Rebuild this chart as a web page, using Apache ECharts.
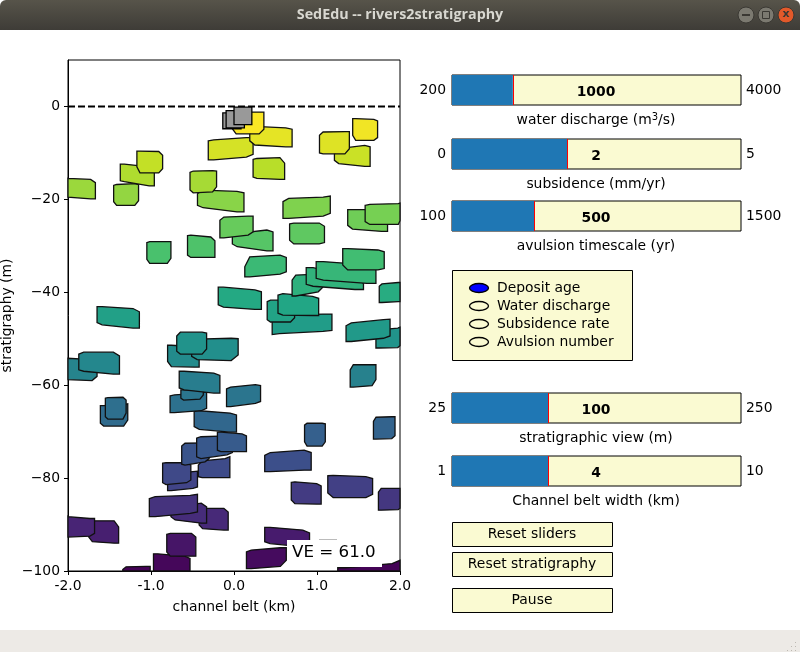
<!DOCTYPE html>
<html>
<head>
<meta charset="utf-8">
<title>SedEdu -- rivers2stratigraphy</title>
<script src="https://cdn.jsdelivr.net/npm/echarts@6/dist/echarts.min.js"></script>
<style>
html, body { margin: 0; padding: 0; background: #fff; }
#main { width: 800px; height: 652px; }
</style>
</head>
<body>
<div id="main"></div>
<script>
// channel belt deposits, oldest first: x left, x right, 4 top depths, 4 base depths (m)
var deposits = [
  [1.25, 2.02, -99.3, -99.3, -98.4, -97.7, -101, -101, -101, -101],
  [0.37, 0.91, -90.6, -90.6, -91.2, -91.8, -93.7, -94.1, -94.8, -95.5],
  [0.15, 0.63, -95.9, -95.5, -95, -95, -99.5, -99.5, -99, -97.7],
  [-1.34, -1.01, -99.7, -99.1, -99, -99, -101, -101, -101, -101],
  [-0.97, -0.53, -96.3, -96.3, -96.8, -97.3, -101, -101, -101, -101],
  [-0.81, -0.46, -92.1, -91.9, -91.9, -92.7, -95.9, -96.8, -96.8, -96.8],
  [-1.75, -1.39, -89.8, -89.2, -89.2, -90.5, -92.7, -93.7, -94, -94],
  [-2.05, -1.68, -88, -88.3, -88.7, -88.7, -92.5, -92.7, -92.5, -91.9],
  [-0.42, -0.07, -86.5, -86.5, -86.5, -87.3, -90.1, -90.9, -91.2, -91.2],
  [-0.76, -0.33, -87.6, -86.2, -85.4, -86.2, -88.3, -89, -89.7, -89.7],
  [-1.02, -0.44, -84.4, -84, -83.7, -83.5, -88.3, -88.3, -87.6, -87.3],
  [1.74, 2.02, -83, -82.2, -82.2, -82.2, -86.9, -86.9, -86.8, -86.5],
  [0.69, 1.05, -80.9, -80.8, -81.2, -81.7, -84.7, -85.5, -85.6, -85.6],
  [1.13, 1.67, -79.5, -79.4, -79.7, -80.1, -83.2, -84.2, -84.2, -83.5],
  [-0.8, -0.44, -79.4, -79, -78.6, -78.5, -82.7, -82.7, -82.2, -81.9],
  [-0.86, -0.52, -76.8, -76.7, -76.7, -77.2, -81, -81.4, -81, -80.4],
  [-0.43, -0.05, -77.2, -76.3, -75.8, -75.4, -79.7, -79.9, -79.9, -79.9],
  [0.37, 0.93, -75.1, -74.5, -74, -74.5, -78.6, -78.6, -78.3, -78.3],
  [-0.63, -0.3, -73.1, -72.5, -72.4, -74, -77, -77.2, -76.5, -75.8],
  [-0.45, -0.02, -71.4, -71.1, -70.9, -72.5, -75.4, -75.8, -75, -74.5],
  [0.85, 1.1, -68.6, -68.2, -68.2, -68.3, -72.2, -73.1, -73.1, -72.2],
  [1.68, 1.94, -67.8, -66.9, -66.8, -66.8, -71.6, -71.6, -71.5, -70.9],
  [-0.48, 0.03, -65.7, -65.5, -66, -66.4, -68.9, -69.5, -70.1, -70.1],
  [-0.2, 0.15, -70.1, -70.1, -70.5, -70.9, -74, -74.3, -74.3, -74.3],
  [-1.61, -1.28, -64.4, -64.4, -64.2, -64, -68.2, -68.8, -68.8, -67.5],
  [-1.55, -1.3, -62.8, -62.7, -62.6, -63.2, -66.8, -67.3, -67.3, -66],
  [-0.77, -0.33, -62.3, -62.1, -61.7, -61.4, -65.9, -65.9, -65.5, -65],
  [-0.64, -0.37, -61, -61, -61, -61, -62.8, -63.2, -63, -62.1],
  [-0.09, 0.32, -60.8, -60.4, -59.9, -60.1, -64.6, -64.6, -63.9, -63.5],
  [-0.66, -0.17, -57, -57, -57.4, -57.9, -60.6, -61, -61.7, -61.7],
  [1.4, 1.71, -56.7, -55.6, -55.6, -55.6, -60.4, -60.4, -60.1, -58.8],
  [-2.05, -1.65, -54.4, -54.2, -54.5, -56, -58.1, -58.8, -59, -58.1],
  [-1.87, -1.38, -53.3, -52.9, -52.9, -53.7, -56.7, -57, -57.6, -57.6],
  [-0.8, -0.42, -51.4, -51.4, -51.7, -53.5, -54.9, -56, -56.1, -56.1],
  [-0.51, 0.05, -50.2, -50.1, -49.9, -50, -53.8, -54.5, -54.7, -53.5],
  [-0.69, -0.33, -49.4, -48.6, -48.6, -48.8, -52.7, -53.3, -53.3, -52.2],
  [1.71, 2.02, -49.9, -48.1, -47.7, -47.5, -52, -52, -51.9, -51.5],
  [1.35, 1.88, -47.2, -46.6, -45.9, -45.8, -50.6, -50.6, -49.9, -49.4],
  [0.46, 1.18, -45.4, -44.9, -44.7, -44.7, -49.1, -48.9, -48.4, -48.2],
  [-1.65, -1.14, -43.1, -43.1, -43.5, -44.2, -46.5, -47, -47.7, -47.7],
  [0.4, 0.73, -42, -41.7, -41.7, -41.7, -45.9, -46.4, -46.4, -45.5],
  [0.53, 1.02, -40.6, -40.3, -40.9, -41.3, -44.5, -44.9, -45, -45],
  [-0.19, 0.33, -38.9, -38.9, -39.5, -39.9, -42.7, -43.2, -43.7, -43.7],
  [1.75, 2.02, -38.7, -38.2, -37.9, -37.9, -42.2, -42.2, -42, -42],
  [0.7, 1.07, -37.4, -36.3, -36.1, -36.7, -40.8, -40.8, -39.9, -38.9],
  [0.87, 1.56, -34.7, -34.7, -36.7, -38.1, -38.3, -38.7, -39.4, -39.4],
  [0.99, 1.71, -33.4, -33.4, -34.1, -35.2, -37, -37.4, -38.1, -38.1],
  [1.31, 1.81, -30.6, -30.6, -30.9, -31.3, -34.1, -35.2, -35.2, -34.9],
  [0.13, 0.63, -34.5, -32.4, -32, -32.5, -36.7, -36.7, -36.1, -35.6],
  [-0.56, -0.23, -27.8, -27.7, -28.1, -28.9, -32, -32.5, -32.5, -32.5],
  [-1.05, -0.76, -29.3, -29.1, -29.1, -29.1, -32.9, -33.8, -33.8, -32.7],
  [-0.02, 0.47, -28, -27.3, -26.6, -27, -29.6, -30.2, -31.1, -31.1],
  [0.67, 1.09, -25.3, -25.1, -25.1, -25.8, -28.8, -29.6, -29.6, -29.3],
  [-0.17, 0.23, -24.5, -23.8, -23.6, -23.6, -28.3, -28.3, -27.7, -27],
  [1.37, 1.85, -22.2, -22.2, -22.2, -23, -25.6, -26.4, -26.9, -26.9],
  [1.58, 2.05, -21.3, -21.1, -20.9, -20.8, -24.8, -25.4, -25.4, -24.6],
  [0.59, 1.16, -20.5, -19.8, -19.5, -19.3, -24.1, -24.1, -23.6, -23],
  [-0.44, 0.12, -18.8, -18, -18.3, -18.6, -21.3, -21.8, -22.7, -22.7],
  [-1.45, -1.15, -17, -16.8, -16.6, -16.8, -20.5, -21.3, -21.3, -20.3],
  [-2.05, -1.67, -15.3, -15.5, -15.7, -16.4, -18.8, -19.5, -19.9, -19.9],
  [-0.53, -0.21, -14.2, -13.9, -13.8, -13.9, -18, -18.6, -18.4, -17.3],
  [-1.37, -0.96, -12.4, -12.4, -13, -14.1, -16, -16.2, -17.1, -17.1],
  [-1.17, -0.86, -9.6, -9.6, -9.7, -10.5, -13, -14.3, -14.3, -13.4],
  [0.23, 0.61, -11.4, -11.2, -11, -12.2, -15.2, -15.5, -15.7, -15.7],
  [1.21, 1.64, -10.2, -9.1, -8.4, -8.7, -11.6, -12.3, -12.9, -12.9],
  [-0.31, 0.23, -7.4, -7.2, -6.7, -6.7, -11.5, -11.5, -10.9, -10.3],
  [1.03, 1.39, -6.2, -5.5, -5.4, -5.4, -10, -10.2, -10.2, -9.1],
  [0.19, 0.7, -5.9, -4.3, -4.6, -4.9, -7.4, -8.3, -8.7, -8.7],
  [1.43, 1.73, -2.6, -2.6, -2.8, -3.1, -6.2, -7.3, -7.3, -6.7],
  [-0.02, 0.36, -1.2, -1.2, -1.2, -1.2, -4.8, -5.9, -5.9, -4.9]
];
// the belts still active, drawn grey
var activeDeposits = [
  [-0.135, 0.085, -1.4, -1.4, -1.4, -1.4, -4.8, -4.8, -4.8, -4.8],
  [-0.095, 0.125, -0.9, -0.9, -0.9, -0.9, -4.6, -4.6, -4.6, -4.6],
  [0, 0.215, -0.15, -0.15, -0.15, -0.15, -3.9, -3.9, -3.9, -3.9]
];
var seaLevel = [[-2, 0], [2, 0]];

var xTicks = [-2, -1, 0, 1, 2];
var yTicks = [-100, -80, -60, -40, -20, 0];

var sliderNames = ['water discharge', 'subsidence (mm/yr)', 'avulsion timescale (yr)', 'stratigraphic view (m)', 'Channel belt width (km)'];
var sliderMins = [200, 0, 100, 25, 1];
var sliderMaxs = [4000, 5, 1500, 250, 10];
var sliderValues = [1000, 2, 500, 100, 4];
var sliderTops = [75, 139, 201, 393, 456];

var radioLabels = ['Deposit age', 'Water discharge', 'Subsidence rate', 'Avulsion number'];
var buttonLabels = ['Reset sliders', 'Reset stratigraphy', 'Pause'];
var buttonTops = [522, 552, 588];

var viridis = ['#440154', '#482475', '#414487', '#355f8d', '#2a788e', '#21918c', '#22a884', '#44bf70', '#7ad151', '#bddf26', '#fde725'];
var stations = [0, 0.12, 0.85, 1];
var FONT = '"DejaVu Sans"';
var FONT_SIZE = 13.9;

function meanDepth(row) {
  var sum = 0;
  for (var i = 2; i < row.length; i++) sum += Math.max(row[i], -100);
  return sum / (row.length - 2);
}

function renderDeposit(params, api) {
  var xL = api.value(1), xR = api.value(2);
  var top = [], base = [];
  stations.forEach(function (f, i) {
    var x = xL + (xR - xL) * f;
    top.push(api.coord([x, api.value(3 + i)]));
    base.unshift(api.coord([x, api.value(3 + stations.length + i)]));
  });
  var cs = params.coordSys;
  var points = echarts.graphic.clipPointsByRect(top.concat(base), { x: cs.x, y: cs.y, width: cs.width, height: cs.height });
  return {
    type: 'polygon',
    shape: { points: points },
    style: { fill: api.visual('color'), stroke: '#111', lineWidth: 1.3 }
  };
}

function depositEncode() {
  return { x: [1, 2], y: [3, 4, 5, 6, 7, 8, 9, 10] };
}

var myChart = echarts.init(document.getElementById('main'), null, { renderer: 'canvas' });

var grids = [{ left: 68, top: 60, width: 332, height: 511, show: true, borderColor: '#000', borderWidth: 1, backgroundColor: '#fff', outerBoundsMode: 'none' }];
var xAxes = [{
  type: 'value', gridIndex: 0, min: -2, max: 2, interval: 1,
  name: 'channel belt (km)', nameLocation: 'middle', nameGap: 29,
  nameTextStyle: { color: '#000', fontFamily: FONT, fontSize: FONT_SIZE },
  axisLine: { show: true, onZero: false, lineStyle: { color: '#000' } },
  axisTick: { show: true, length: 4, lineStyle: { color: '#000' } },
  axisLabel: { color: '#000', fontFamily: FONT, fontSize: FONT_SIZE, margin: 8, formatter: function (v) { return v.toFixed(1); }, customValues: xTicks },
  splitLine: { show: false }
}];
var yAxes = [{
  type: 'value', gridIndex: 0, min: -100, max: 10, interval: 20,
  name: 'stratigraphy (m)', nameLocation: 'middle', nameGap: 54,
  nameTextStyle: { color: '#000', fontFamily: FONT, fontSize: FONT_SIZE },
  axisLine: { show: true, onZero: false, lineStyle: { color: '#000' } },
  axisTick: { show: true, length: 4, lineStyle: { color: '#000' }, customValues: yTicks },
  axisLabel: { color: '#000', fontFamily: FONT, fontSize: FONT_SIZE, margin: 8, customValues: yTicks, formatter: function (v) { return v < 0 ? '\u2212' + (-v) : '' + v; } },
  splitLine: { show: false }
}];

var series = [
  {
    type: 'custom', name: 'deposits', xAxisIndex: 0, yAxisIndex: 0, z: 3,
    renderItem: renderDeposit, encode: depositEncode(),
    data: deposits.map(function (r) { return [meanDepth(r)].concat(r); })
  },
  {
    type: 'custom', name: 'active', xAxisIndex: 0, yAxisIndex: 0, z: 4,
    renderItem: function (params, api) {
      var shape = renderDeposit(params, api);
      shape.style.fill = '#999';
      shape.style.stroke = '#000';
      return shape;
    },
    encode: depositEncode(),
    data: activeDeposits.map(function (r) { return [0].concat(r); })
  },
  {
    type: 'line', name: 'sea level', xAxisIndex: 0, yAxisIndex: 0, z: 2, showSymbol: false, silent: true,
    lineStyle: { color: '#000', width: 2, type: [7, 3] }, data: seaLevel
  }
];

var texts = [];
function addText(text, x, y, align, extra) {
  var style = { text: text, x: x, y: y, align: align, verticalAlign: 'middle', fill: '#000', font: FONT_SIZE + 'px ' + FONT };
  for (var k in extra) style[k] = extra[k];
  texts.push({ type: 'text', z: 20, silent: true, style: style });
}

sliderNames.forEach(function (name, i) {
  var g = i + 1, top = sliderTops[i];
  grids.push({ left: 452, top: top, width: 289, height: 30, show: true, backgroundColor: '#fafad2', borderColor: '#000', borderWidth: 1, outerBoundsMode: 'none' });
  xAxes.push({ type: 'value', gridIndex: g, min: sliderMins[i], max: sliderMaxs[i], show: false });
  yAxes.push({ type: 'category', gridIndex: g, data: [name], show: false });
  series.push({
    type: 'bar', xAxisIndex: g, yAxisIndex: g, barWidth: '100%', silent: true,
    itemStyle: { color: '#1f77b4' }, data: [sliderValues[i]],
    markLine: { silent: true, symbol: 'none', animation: false, label: { show: false }, lineStyle: { color: '#f00', width: 1, type: 'solid' }, data: [{ xAxis: sliderValues[i] }] }
  });
  addText(String(sliderMins[i]), 446, top + 15, 'right');
  addText(String(sliderMaxs[i]), 746, top + 15, 'left');
  addText(String(sliderValues[i]), 596, top + 17, 'center', { font: 'bold ' + FONT_SIZE + 'px ' + FONT });
  if (i === 0) {
    addText('water discharge (m{sup|3}/s)', 596, top + 45, 'center', { rich: { sup: { font: '10px ' + FONT, verticalAlign: 'top', fill: '#000', padding: [0, 0, 6, 0] } } });
  } else {
    addText(name, 596, top + 45, 'center');
  }
});

var chrome = [
  { type: 'rect', z: 1, silent: true, shape: { x: 0, y: 0, width: 800, height: 30, r: [6, 6, 0, 0] },
    style: { fill: new echarts.graphic.LinearGradient(0, 0, 0, 1, [{ offset: 0, color: '#57544a' }, { offset: 1, color: '#3e3c37' }]) } },
  { type: 'text', z: 20, silent: true, style: { text: 'SedEdu -- rivers2stratigraphy', x: 400, y: 15, align: 'center', verticalAlign: 'middle', fill: '#d8d7d0', font: 'bold 14.3px "Open Sans"' } },
  { type: 'circle', z: 2, silent: true, shape: { cx: 746, cy: 15, r: 8 }, style: { fill: '#7b7970', stroke: '#3a3833' } },
  { type: 'circle', z: 2, silent: true, shape: { cx: 766, cy: 15, r: 8 }, style: { fill: '#7b7970', stroke: '#3a3833' } },
  { type: 'circle', z: 2, silent: true, shape: { cx: 786, cy: 15, r: 8 }, style: { fill: '#e2592a', stroke: '#3a3833' } },
  { type: 'rect', z: 3, silent: true, shape: { x: 742, y: 14, width: 8, height: 2 }, style: { fill: '#3a3833' } },
  { type: 'rect', z: 3, silent: true, shape: { x: 762.5, y: 11.5, width: 7, height: 7 }, style: { fill: 'none', stroke: '#3a3833' } },
  { type: 'text', z: 3, silent: true, style: { text: 'x', x: 786, y: 14, align: 'center', verticalAlign: 'middle', fill: '#3a3833', font: 'bold 11px ' + FONT } },
  { type: 'rect', z: 1, silent: true, shape: { x: 0, y: 630, width: 800, height: 22 }, style: { fill: '#edeae6' } },
  // radio panel
  { type: 'rect', z: 1, silent: true, shape: { x: 452.5, y: 270.5, width: 180, height: 90 }, style: { fill: '#fafad2', stroke: '#000', lineWidth: 1 } },
  // model text, white box behind it
  { type: 'rect', z: 18, silent: true, shape: { x: 287, y: 540, width: 95, height: 27 }, style: { fill: '#fff' } },
  { type: 'rect', z: 18, silent: true, shape: { x: 319, y: 539, width: 18, height: 1 }, style: { fill: '#bbb' } }
];
radioLabels.forEach(function (label, i) {
  chrome.push({ type: 'ellipse', z: 2, silent: true, shape: { cx: 479, cy: 288 + i * 18, rx: 9.5, ry: 4.5 }, style: { fill: i === 0 ? '#0000ff' : '#fafad2', stroke: '#000', lineWidth: 1.3 } });
  addText(label, 497, 288 + i * 18, 'left');
});
buttonLabels.forEach(function (label, i) {
  chrome.push({ type: 'rect', z: 1, silent: true, shape: { x: 452.5, y: buttonTops[i] + 0.5, width: 160, height: 24 }, style: { fill: '#fafad2', stroke: '#000', lineWidth: 1 } });
  addText(label, 532, buttonTops[i] + 12, 'center');
});
addText('VE = 61.0', 292, 553, 'left', { font: '16.7px ' + FONT });
// resize grip
[[795, 642], [791, 646], [795, 646], [787, 650], [791, 650], [795, 650]].forEach(function (p) {
  chrome.push({ type: 'rect', z: 2, silent: true, shape: { x: p[0], y: p[1], width: 1, height: 1 }, style: { fill: '#bdb9b2' } });
});

var option = {
  animation: false,
  backgroundColor: '#fff',
  textStyle: { fontFamily: FONT },
  grid: grids,
  xAxis: xAxes,
  yAxis: yAxes,
  visualMap: { show: false, type: 'continuous', seriesIndex: 0, dimension: 0, min: -100, max: -3, inRange: { color: viridis } },
  graphic: chrome.concat(texts),
  series: series
};
myChart.setOption(option);
</script>
</body>
</html>
